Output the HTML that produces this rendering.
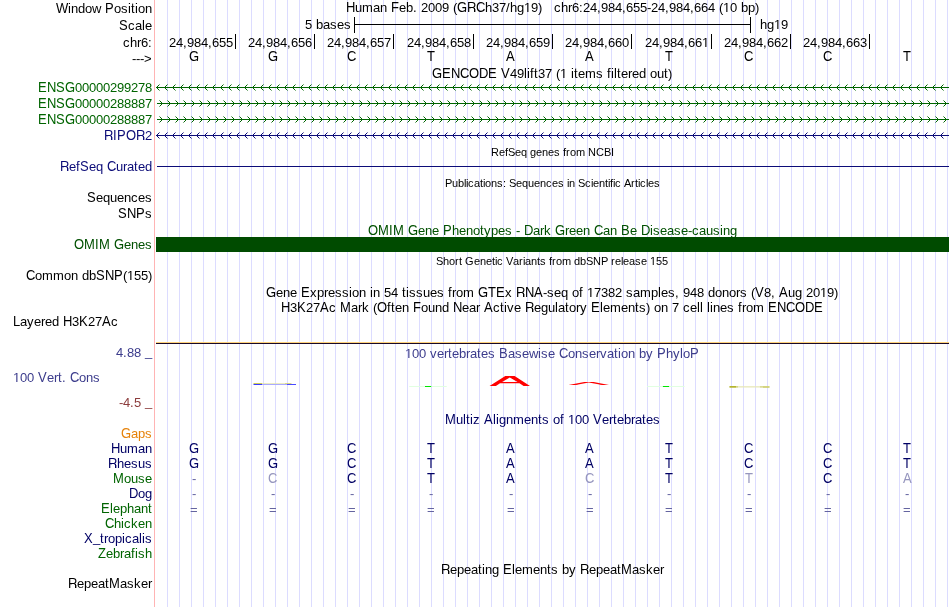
<!DOCTYPE html>
<html><head><meta charset="utf-8"><title>UCSC Genome Browser</title>
<style>html,body{margin:0;padding:0;background:#fff;overflow:hidden}svg{display:block;will-change:transform}text{font-family:"Liberation Sans",sans-serif;font-size:13px;white-space:pre}text.s{font-size:11px}</style>
</head><body>
<svg width="950" height="607" viewBox="0 0 950 607">
<rect width="950" height="607" fill="#fff"/>
<defs><clipPath id="lo12"><rect x="0" y="4" width="950" height="14"/></clipPath><clipPath id="hi12"><rect x="0" y="-1" width="950" height="5"/></clipPath><clipPath id="lo13"><rect x="0" y="5" width="950" height="14"/></clipPath><clipPath id="hi13"><rect x="0" y="0" width="950" height="5"/></clipPath><clipPath id="lo29"><rect x="0" y="21" width="950" height="14"/></clipPath><clipPath id="hi29"><rect x="0" y="16" width="950" height="5"/></clipPath><clipPath id="lo30"><rect x="0" y="22" width="950" height="14"/></clipPath><clipPath id="hi30"><rect x="0" y="17" width="950" height="5"/></clipPath><clipPath id="lo47"><rect x="0" y="39" width="950" height="14"/></clipPath><clipPath id="hi47"><rect x="0" y="34" width="950" height="5"/></clipPath><clipPath id="lo78"><rect x="0" y="70" width="950" height="14"/></clipPath><clipPath id="hi78"><rect x="0" y="65" width="950" height="5"/></clipPath><clipPath id="lo171"><rect x="0" y="163" width="950" height="14"/></clipPath><clipPath id="hi171"><rect x="0" y="158" width="950" height="5"/></clipPath><clipPath id="lo235"><rect x="0" y="227" width="950" height="14"/></clipPath><clipPath id="hi235"><rect x="0" y="222" width="950" height="5"/></clipPath><clipPath id="lo280"><rect x="0" y="272" width="950" height="14"/></clipPath><clipPath id="hi280"><rect x="0" y="267" width="950" height="5"/></clipPath><clipPath id="lo297"><rect x="0" y="289" width="950" height="14"/></clipPath><clipPath id="hi297"><rect x="0" y="284" width="950" height="5"/></clipPath><clipPath id="lo312"><rect x="0" y="304" width="950" height="14"/></clipPath><clipPath id="hi312"><rect x="0" y="299" width="950" height="5"/></clipPath><clipPath id="lo326"><rect x="0" y="318" width="950" height="14"/></clipPath><clipPath id="hi326"><rect x="0" y="313" width="950" height="5"/></clipPath><clipPath id="lo358"><rect x="0" y="350" width="950" height="14"/></clipPath><clipPath id="hi358"><rect x="0" y="345" width="950" height="5"/></clipPath><clipPath id="lo382"><rect x="0" y="374" width="950" height="14"/></clipPath><clipPath id="hi382"><rect x="0" y="369" width="950" height="5"/></clipPath><clipPath id="lo424"><rect x="0" y="416" width="950" height="14"/></clipPath><clipPath id="hi424"><rect x="0" y="411" width="950" height="5"/></clipPath><clipPath id="lo468"><rect x="0" y="460" width="950" height="14"/></clipPath><clipPath id="hi468"><rect x="0" y="455" width="950" height="5"/></clipPath><clipPath id="lo513"><rect x="0" y="505" width="950" height="14"/></clipPath><clipPath id="hi513"><rect x="0" y="500" width="950" height="5"/></clipPath><clipPath id="lo528"><rect x="0" y="520" width="950" height="14"/></clipPath><clipPath id="hi528"><rect x="0" y="515" width="950" height="5"/></clipPath><clipPath id="lo543"><rect x="0" y="535" width="950" height="14"/></clipPath><clipPath id="hi543"><rect x="0" y="530" width="950" height="5"/></clipPath><clipPath id="lo558"><rect x="0" y="550" width="950" height="14"/></clipPath><clipPath id="hi558"><rect x="0" y="545" width="950" height="5"/></clipPath><clipPath id="lo574"><rect x="0" y="566" width="950" height="14"/></clipPath><clipPath id="hi574"><rect x="0" y="561" width="950" height="5"/></clipPath><clipPath id="lo588"><rect x="0" y="580" width="950" height="14"/></clipPath><clipPath id="hi588"><rect x="0" y="575" width="950" height="5"/></clipPath><clipPath id="oa12"><rect x="0" y="-2" width="950" height="13"/></clipPath><clipPath id="ob12"><rect x="0" y="11" width="950" height="1"/></clipPath><clipPath id="oa29"><rect x="0" y="15" width="950" height="13"/></clipPath><clipPath id="ob29"><rect x="0" y="28" width="950" height="1"/></clipPath><clipPath id="oa47"><rect x="0" y="33" width="950" height="13"/></clipPath><clipPath id="ob47"><rect x="0" y="46" width="950" height="1"/></clipPath><clipPath id="oa78"><rect x="0" y="64" width="950" height="13"/></clipPath><clipPath id="ob78"><rect x="0" y="77" width="950" height="1"/></clipPath><clipPath id="oa265"><rect x="0" y="251" width="950" height="13"/></clipPath><clipPath id="ob265"><rect x="0" y="264" width="950" height="1"/></clipPath><clipPath id="oa280"><rect x="0" y="266" width="950" height="13"/></clipPath><clipPath id="ob280"><rect x="0" y="279" width="950" height="1"/></clipPath><clipPath id="oa297"><rect x="0" y="283" width="950" height="13"/></clipPath><clipPath id="ob297"><rect x="0" y="296" width="950" height="1"/></clipPath><clipPath id="oa358"><rect x="0" y="344" width="950" height="13"/></clipPath><clipPath id="ob358"><rect x="0" y="357" width="950" height="1"/></clipPath><clipPath id="oa382"><rect x="0" y="368" width="950" height="13"/></clipPath><clipPath id="ob382"><rect x="0" y="381" width="950" height="1"/></clipPath><clipPath id="oa424"><rect x="0" y="410" width="950" height="13"/></clipPath><clipPath id="ob424"><rect x="0" y="423" width="950" height="1"/></clipPath><clipPath id="r0"><rect x="467" y="-2" width="12" height="10"/><rect x="467" y="8" width="4" height="5"/></clipPath><clipPath id="r1"><rect x="104" y="126" width="12" height="10"/><rect x="104" y="136" width="4" height="5"/></clipPath><clipPath id="r2"><rect x="136" y="126" width="12" height="10"/><rect x="136" y="136" width="4" height="5"/></clipPath><clipPath id="r3"><rect x="60" y="157" width="12" height="10"/><rect x="60" y="167" width="4" height="5"/></clipPath><clipPath id="r4"><rect x="516" y="283" width="12" height="10"/><rect x="516" y="293" width="4" height="5"/></clipPath><clipPath id="r5"><rect x="525" y="298" width="12" height="10"/><rect x="525" y="308" width="4" height="5"/></clipPath><clipPath id="r6"><rect x="108" y="454" width="12" height="10"/><rect x="108" y="464" width="4" height="5"/></clipPath><clipPath id="r7"><rect x="441" y="560" width="12" height="10"/><rect x="441" y="570" width="4" height="5"/></clipPath><clipPath id="r8"><rect x="580" y="560" width="12" height="10"/><rect x="580" y="570" width="4" height="5"/></clipPath><clipPath id="r9"><rect x="68" y="574" width="12" height="10"/><rect x="68" y="584" width="4" height="5"/></clipPath></defs>
<g shape-rendering="crispEdges">
<path d="M167 0v607M179 0v607M191 0v607M203 0v607M215 0v607M227 0v607M239 0v607M251 0v607M263 0v607M275 0v607M287 0v607M299 0v607M311 0v607M323 0v607M335 0v607M347 0v607M359 0v607M371 0v607M383 0v607M395 0v607M407 0v607M419 0v607M431 0v607M443 0v607M455 0v607M467 0v607M479 0v607M491 0v607M503 0v607M515 0v607M527 0v607M539 0v607M551 0v607M563 0v607M575 0v607M587 0v607M599 0v607M611 0v607M623 0v607M635 0v607M647 0v607M659 0v607M671 0v607M683 0v607M695 0v607M707 0v607M719 0v607M731 0v607M743 0v607M755 0v607M767 0v607M779 0v607M791 0v607M803 0v607M815 0v607M827 0v607M839 0v607M851 0v607M863 0v607M875 0v607M887 0v607M899 0v607M911 0v607M923 0v607M935 0v607M947 0v607" stroke="#dcdcff" stroke-width="1" transform="translate(0.5,0)"/>
<rect x="154" y="0" width="1" height="607" fill="#ffb4b4"/>
</g>
<text transform="translate(0 13) scale(1 1.07)" x="56">W</text>
<text x="71 85 92" y="13">now</text>
<text transform="translate(0 13) scale(1 1.07)" x="105">P</text>
<text x="114 121 138 145" y="13">oson</text>
<text x="68 78 128 131 135" y="13" clip-path="url(#lo13)">iditi</text>
<text x="68 78 128 131 135" y="12" clip-path="url(#hi13)">iditi</text>
<text transform="translate(0 30) scale(1 1.07)" x="119">S</text>
<text x="128 135 145" y="30">cae</text>
<text x="142" y="30" clip-path="url(#lo30)">l</text>
<text x="142" y="29" clip-path="url(#hi30)">l</text>
<text x="123 137 141 148" y="47">cr6:</text>
<text x="130" y="47" clip-path="url(#lo47)">h</text>
<text x="130" y="46" clip-path="url(#hi47)">h</text>
<text x="132 136 140 144" y="63">---&gt;</text>
<text transform="translate(0 12) scale(1 1.07)" x="346">H</text>
<text x="355 362 373 380" y="12">uman</text>
<text transform="translate(0 12) scale(1 1.07)" x="391">F</text>
<text x="399 413 417 421 428 435 442 449 453" y="12">e. 2009 (</text>
<text transform="translate(0 12) scale(1 1.07)" x="457 476">GC</text>
<text x="492 499 506 517 531 538 542 546 550 554 568 572 579 583 590 597 601 608 615 622 626 633 640 647 651 658 665 669 676 683 690 694 701 708 715 719 730 737 748 755" y="12">37/g9)   cr6:24,984,655-24,984,664 (0 p)</text>
<g clip-path="url(#r0)"><text transform="translate(0 12) scale(1 1.07)" x="467">R</text></g>
<path d="M474 8h1v4h-1z" fill="#000"/><path d="M475 9h1v3h-1z" fill="#000" opacity="0.38"/><path d="M473 8h1v1h-1z" fill="#000" opacity="0.45"/>
<path d="M465 10h1v2h-1z" fill="#000" opacity="0.85"/>
<text x="524 723" y="12" clip-path="url(#oa12)">11</text>
<text x="524 723" y="13" clip-path="url(#ob12)">11</text>
<text x="406 485 510 561 741" y="12" clip-path="url(#lo12)">bhhhb</text>
<text x="406 485 510 561 741" y="11" clip-path="url(#hi12)">bhhhb</text>
<text x="305 312 323 330 337 344" y="29">5 ases</text>
<text x="316" y="29" clip-path="url(#lo29)">b</text>
<text x="316" y="28" clip-path="url(#hi29)">b</text>
<text x="767 781" y="29">g9</text>
<text x="774" y="29" clip-path="url(#oa29)">1</text>
<text x="774" y="30" clip-path="url(#ob29)">1</text>
<text x="760" y="29" clip-path="url(#lo29)">h</text>
<text x="760" y="28" clip-path="url(#hi29)">h</text>
<g shape-rendering="crispEdges" fill="#000">
<rect x="354" y="24" width="397" height="1"/>
<rect x="354" y="17" width="1" height="16"/>
<rect x="750" y="17" width="1" height="16"/>
<rect x="235" y="34" width="1" height="15"/>
<rect x="314" y="34" width="1" height="15"/>
<rect x="393" y="34" width="1" height="15"/>
<rect x="473" y="34" width="1" height="15"/>
<rect x="552" y="34" width="1" height="15"/>
<rect x="631" y="34" width="1" height="15"/>
<rect x="711" y="34" width="1" height="15"/>
<rect x="790" y="34" width="1" height="15"/>
<rect x="869" y="34" width="1" height="15"/>
</g>
<text x="169 176 183 187 194 201 208 212 219 226" y="47">24,984,655</text>
<text x="248 255 262 266 273 280 287 291 298 305" y="47">24,984,656</text>
<text x="327 334 341 345 352 359 366 370 377 384" y="47">24,984,657</text>
<text x="407 414 421 425 432 439 446 450 457 464" y="47">24,984,658</text>
<text x="486 493 500 504 511 518 525 529 536 543" y="47">24,984,659</text>
<text x="565 572 579 583 590 597 604 608 615 622" y="47">24,984,660</text>
<text x="645 652 659 663 670 677 684 688 695" y="47">24,984,66</text>
<text x="702" y="47" clip-path="url(#oa47)">1</text>
<text x="702" y="48" clip-path="url(#ob47)">1</text>
<text x="724 731 738 742 749 756 763 767 774 781" y="47">24,984,662</text>
<text x="803 810 817 821 828 835 842 846 853 860" y="47">24,984,663</text>
<text transform="translate(0 61) scale(1 1.07)" x="189">G</text>
<path d="M197 59h1v2h-1z" fill="#000" opacity="0.85"/>
<text transform="translate(0 61) scale(1 1.07)" x="268">G</text>
<path d="M276 59h1v2h-1z" fill="#000" opacity="0.85"/>
<text transform="translate(0 61) scale(1 1.07)" x="347">C</text>
<text transform="translate(0 61) scale(1 1.07)" x="427">T</text>
<text transform="translate(0 61) scale(1 1.07)" x="506">A</text>
<text transform="translate(0 61) scale(1 1.07)" x="585">A</text>
<text transform="translate(0 61) scale(1 1.07)" x="665">T</text>
<text transform="translate(0 61) scale(1 1.07)" x="744">C</text>
<text transform="translate(0 61) scale(1 1.07)" x="823">C</text>
<text transform="translate(0 61) scale(1 1.07)" x="903">T</text>
<text transform="translate(0 78) scale(1 1.07)" x="432 442 451 460 469 479 488 497 501">GENCODE V</text>
<text x="510 517 538 545 552 556 567 578 585 596 603 621 628 632 646 650 657 668" y="78">4937 ( ems ere ou)</text>
<path d="M440 76h1v2h-1z" fill="#000" opacity="0.85"/>
<text x="560" y="78" clip-path="url(#oa78)">1</text>
<text x="560" y="79" clip-path="url(#ob78)">1</text>
<text x="524 527 530 534 571 574 607 611 614 617 639 664" y="78" clip-path="url(#lo78)">liftitfiltdt</text>
<text x="524 527 530 534 571 574 607 611 614 617 639 664" y="77" clip-path="url(#hi78)">liftitfiltdt</text>
<text transform="translate(0 92) scale(1 1.07)" x="38 47 56 65" fill="#006400">ENSG</text>
<text x="75 82 89 96 103 110 117 124 131 138 145" y="92" fill="#006400">00000299278</text>
<path d="M73 90h1v2h-1z" fill="#006400" opacity="0.85"/>
<g stroke="#006400" stroke-width="1" fill="none">
<path d="M156 87.5H949"/>
<path d="M159.5 84.5L156.5 87.5L159.5 90.5M167.5 84.5L164.5 87.5L167.5 90.5M175.5 84.5L172.5 87.5L175.5 90.5M183.5 84.5L180.5 87.5L183.5 90.5M191.5 84.5L188.5 87.5L191.5 90.5M199.5 84.5L196.5 87.5L199.5 90.5M207.5 84.5L204.5 87.5L207.5 90.5M215.5 84.5L212.5 87.5L215.5 90.5M223.5 84.5L220.5 87.5L223.5 90.5M231.5 84.5L228.5 87.5L231.5 90.5M239.5 84.5L236.5 87.5L239.5 90.5M247.5 84.5L244.5 87.5L247.5 90.5M255.5 84.5L252.5 87.5L255.5 90.5M263.5 84.5L260.5 87.5L263.5 90.5M271.5 84.5L268.5 87.5L271.5 90.5M279.5 84.5L276.5 87.5L279.5 90.5M287.5 84.5L284.5 87.5L287.5 90.5M295.5 84.5L292.5 87.5L295.5 90.5M303.5 84.5L300.5 87.5L303.5 90.5M311.5 84.5L308.5 87.5L311.5 90.5M319.5 84.5L316.5 87.5L319.5 90.5M327.5 84.5L324.5 87.5L327.5 90.5M335.5 84.5L332.5 87.5L335.5 90.5M343.5 84.5L340.5 87.5L343.5 90.5M351.5 84.5L348.5 87.5L351.5 90.5M359.5 84.5L356.5 87.5L359.5 90.5M367.5 84.5L364.5 87.5L367.5 90.5M375.5 84.5L372.5 87.5L375.5 90.5M383.5 84.5L380.5 87.5L383.5 90.5M391.5 84.5L388.5 87.5L391.5 90.5M399.5 84.5L396.5 87.5L399.5 90.5M407.5 84.5L404.5 87.5L407.5 90.5M415.5 84.5L412.5 87.5L415.5 90.5M423.5 84.5L420.5 87.5L423.5 90.5M431.5 84.5L428.5 87.5L431.5 90.5M439.5 84.5L436.5 87.5L439.5 90.5M447.5 84.5L444.5 87.5L447.5 90.5M455.5 84.5L452.5 87.5L455.5 90.5M463.5 84.5L460.5 87.5L463.5 90.5M471.5 84.5L468.5 87.5L471.5 90.5M479.5 84.5L476.5 87.5L479.5 90.5M487.5 84.5L484.5 87.5L487.5 90.5M495.5 84.5L492.5 87.5L495.5 90.5M503.5 84.5L500.5 87.5L503.5 90.5M511.5 84.5L508.5 87.5L511.5 90.5M519.5 84.5L516.5 87.5L519.5 90.5M527.5 84.5L524.5 87.5L527.5 90.5M535.5 84.5L532.5 87.5L535.5 90.5M543.5 84.5L540.5 87.5L543.5 90.5M551.5 84.5L548.5 87.5L551.5 90.5M559.5 84.5L556.5 87.5L559.5 90.5M567.5 84.5L564.5 87.5L567.5 90.5M575.5 84.5L572.5 87.5L575.5 90.5M583.5 84.5L580.5 87.5L583.5 90.5M591.5 84.5L588.5 87.5L591.5 90.5M599.5 84.5L596.5 87.5L599.5 90.5M607.5 84.5L604.5 87.5L607.5 90.5M615.5 84.5L612.5 87.5L615.5 90.5M623.5 84.5L620.5 87.5L623.5 90.5M631.5 84.5L628.5 87.5L631.5 90.5M639.5 84.5L636.5 87.5L639.5 90.5M647.5 84.5L644.5 87.5L647.5 90.5M655.5 84.5L652.5 87.5L655.5 90.5M663.5 84.5L660.5 87.5L663.5 90.5M671.5 84.5L668.5 87.5L671.5 90.5M679.5 84.5L676.5 87.5L679.5 90.5M687.5 84.5L684.5 87.5L687.5 90.5M695.5 84.5L692.5 87.5L695.5 90.5M703.5 84.5L700.5 87.5L703.5 90.5M711.5 84.5L708.5 87.5L711.5 90.5M719.5 84.5L716.5 87.5L719.5 90.5M727.5 84.5L724.5 87.5L727.5 90.5M735.5 84.5L732.5 87.5L735.5 90.5M743.5 84.5L740.5 87.5L743.5 90.5M751.5 84.5L748.5 87.5L751.5 90.5M759.5 84.5L756.5 87.5L759.5 90.5M767.5 84.5L764.5 87.5L767.5 90.5M775.5 84.5L772.5 87.5L775.5 90.5M783.5 84.5L780.5 87.5L783.5 90.5M791.5 84.5L788.5 87.5L791.5 90.5M799.5 84.5L796.5 87.5L799.5 90.5M807.5 84.5L804.5 87.5L807.5 90.5M815.5 84.5L812.5 87.5L815.5 90.5M823.5 84.5L820.5 87.5L823.5 90.5M831.5 84.5L828.5 87.5L831.5 90.5M839.5 84.5L836.5 87.5L839.5 90.5M847.5 84.5L844.5 87.5L847.5 90.5M855.5 84.5L852.5 87.5L855.5 90.5M863.5 84.5L860.5 87.5L863.5 90.5M871.5 84.5L868.5 87.5L871.5 90.5M879.5 84.5L876.5 87.5L879.5 90.5M887.5 84.5L884.5 87.5L887.5 90.5M895.5 84.5L892.5 87.5L895.5 90.5M903.5 84.5L900.5 87.5L903.5 90.5M911.5 84.5L908.5 87.5L911.5 90.5M919.5 84.5L916.5 87.5L919.5 90.5M927.5 84.5L924.5 87.5L927.5 90.5M935.5 84.5L932.5 87.5L935.5 90.5M943.5 84.5L940.5 87.5L943.5 90.5"/>
</g>
<text transform="translate(0 108) scale(1 1.07)" x="38 47 56 65" fill="#006400">ENSG</text>
<text x="75 82 89 96 103 110 117 124 131 138 145" y="108" fill="#006400">00000288887</text>
<path d="M73 106h1v2h-1z" fill="#006400" opacity="0.85"/>
<g stroke="#006400" stroke-width="1" fill="none">
<path d="M157 103.5H949"/>
<path d="M159.5 100.5L162.5 103.5L159.5 106.5M167.5 100.5L170.5 103.5L167.5 106.5M175.5 100.5L178.5 103.5L175.5 106.5M183.5 100.5L186.5 103.5L183.5 106.5M191.5 100.5L194.5 103.5L191.5 106.5M199.5 100.5L202.5 103.5L199.5 106.5M207.5 100.5L210.5 103.5L207.5 106.5M215.5 100.5L218.5 103.5L215.5 106.5M223.5 100.5L226.5 103.5L223.5 106.5M231.5 100.5L234.5 103.5L231.5 106.5M239.5 100.5L242.5 103.5L239.5 106.5M247.5 100.5L250.5 103.5L247.5 106.5M255.5 100.5L258.5 103.5L255.5 106.5M263.5 100.5L266.5 103.5L263.5 106.5M271.5 100.5L274.5 103.5L271.5 106.5M279.5 100.5L282.5 103.5L279.5 106.5M287.5 100.5L290.5 103.5L287.5 106.5M295.5 100.5L298.5 103.5L295.5 106.5M303.5 100.5L306.5 103.5L303.5 106.5M311.5 100.5L314.5 103.5L311.5 106.5M319.5 100.5L322.5 103.5L319.5 106.5M327.5 100.5L330.5 103.5L327.5 106.5M335.5 100.5L338.5 103.5L335.5 106.5M343.5 100.5L346.5 103.5L343.5 106.5M351.5 100.5L354.5 103.5L351.5 106.5M359.5 100.5L362.5 103.5L359.5 106.5M367.5 100.5L370.5 103.5L367.5 106.5M375.5 100.5L378.5 103.5L375.5 106.5M383.5 100.5L386.5 103.5L383.5 106.5M391.5 100.5L394.5 103.5L391.5 106.5M399.5 100.5L402.5 103.5L399.5 106.5M407.5 100.5L410.5 103.5L407.5 106.5M415.5 100.5L418.5 103.5L415.5 106.5M423.5 100.5L426.5 103.5L423.5 106.5M431.5 100.5L434.5 103.5L431.5 106.5M439.5 100.5L442.5 103.5L439.5 106.5M447.5 100.5L450.5 103.5L447.5 106.5M455.5 100.5L458.5 103.5L455.5 106.5M463.5 100.5L466.5 103.5L463.5 106.5M471.5 100.5L474.5 103.5L471.5 106.5M479.5 100.5L482.5 103.5L479.5 106.5M487.5 100.5L490.5 103.5L487.5 106.5M495.5 100.5L498.5 103.5L495.5 106.5M503.5 100.5L506.5 103.5L503.5 106.5M511.5 100.5L514.5 103.5L511.5 106.5M519.5 100.5L522.5 103.5L519.5 106.5M527.5 100.5L530.5 103.5L527.5 106.5M535.5 100.5L538.5 103.5L535.5 106.5M543.5 100.5L546.5 103.5L543.5 106.5M551.5 100.5L554.5 103.5L551.5 106.5M559.5 100.5L562.5 103.5L559.5 106.5M567.5 100.5L570.5 103.5L567.5 106.5M575.5 100.5L578.5 103.5L575.5 106.5M583.5 100.5L586.5 103.5L583.5 106.5M591.5 100.5L594.5 103.5L591.5 106.5M599.5 100.5L602.5 103.5L599.5 106.5M607.5 100.5L610.5 103.5L607.5 106.5M615.5 100.5L618.5 103.5L615.5 106.5M623.5 100.5L626.5 103.5L623.5 106.5M631.5 100.5L634.5 103.5L631.5 106.5M639.5 100.5L642.5 103.5L639.5 106.5M647.5 100.5L650.5 103.5L647.5 106.5M655.5 100.5L658.5 103.5L655.5 106.5M663.5 100.5L666.5 103.5L663.5 106.5M671.5 100.5L674.5 103.5L671.5 106.5M679.5 100.5L682.5 103.5L679.5 106.5M687.5 100.5L690.5 103.5L687.5 106.5M695.5 100.5L698.5 103.5L695.5 106.5M703.5 100.5L706.5 103.5L703.5 106.5M711.5 100.5L714.5 103.5L711.5 106.5M719.5 100.5L722.5 103.5L719.5 106.5M727.5 100.5L730.5 103.5L727.5 106.5M735.5 100.5L738.5 103.5L735.5 106.5M743.5 100.5L746.5 103.5L743.5 106.5M751.5 100.5L754.5 103.5L751.5 106.5M759.5 100.5L762.5 103.5L759.5 106.5M767.5 100.5L770.5 103.5L767.5 106.5M775.5 100.5L778.5 103.5L775.5 106.5M783.5 100.5L786.5 103.5L783.5 106.5M791.5 100.5L794.5 103.5L791.5 106.5M799.5 100.5L802.5 103.5L799.5 106.5M807.5 100.5L810.5 103.5L807.5 106.5M815.5 100.5L818.5 103.5L815.5 106.5M823.5 100.5L826.5 103.5L823.5 106.5M831.5 100.5L834.5 103.5L831.5 106.5M839.5 100.5L842.5 103.5L839.5 106.5M847.5 100.5L850.5 103.5L847.5 106.5M855.5 100.5L858.5 103.5L855.5 106.5M863.5 100.5L866.5 103.5L863.5 106.5M871.5 100.5L874.5 103.5L871.5 106.5M879.5 100.5L882.5 103.5L879.5 106.5M887.5 100.5L890.5 103.5L887.5 106.5M895.5 100.5L898.5 103.5L895.5 106.5M903.5 100.5L906.5 103.5L903.5 106.5M911.5 100.5L914.5 103.5L911.5 106.5M919.5 100.5L922.5 103.5L919.5 106.5M927.5 100.5L930.5 103.5L927.5 106.5M935.5 100.5L938.5 103.5L935.5 106.5M943.5 100.5L946.5 103.5L943.5 106.5"/>
</g>
<text transform="translate(0 124) scale(1 1.07)" x="38 47 56 65" fill="#006400">ENSG</text>
<text x="75 82 89 96 103 110 117 124 131 138 145" y="124" fill="#006400">00000288887</text>
<path d="M73 122h1v2h-1z" fill="#006400" opacity="0.85"/>
<g stroke="#006400" stroke-width="1" fill="none">
<path d="M157 119.5H949"/>
<path d="M159.5 116.5L162.5 119.5L159.5 122.5M167.5 116.5L170.5 119.5L167.5 122.5M175.5 116.5L178.5 119.5L175.5 122.5M183.5 116.5L186.5 119.5L183.5 122.5M191.5 116.5L194.5 119.5L191.5 122.5M199.5 116.5L202.5 119.5L199.5 122.5M207.5 116.5L210.5 119.5L207.5 122.5M215.5 116.5L218.5 119.5L215.5 122.5M223.5 116.5L226.5 119.5L223.5 122.5M231.5 116.5L234.5 119.5L231.5 122.5M239.5 116.5L242.5 119.5L239.5 122.5M247.5 116.5L250.5 119.5L247.5 122.5M255.5 116.5L258.5 119.5L255.5 122.5M263.5 116.5L266.5 119.5L263.5 122.5M271.5 116.5L274.5 119.5L271.5 122.5M279.5 116.5L282.5 119.5L279.5 122.5M287.5 116.5L290.5 119.5L287.5 122.5M295.5 116.5L298.5 119.5L295.5 122.5M303.5 116.5L306.5 119.5L303.5 122.5M311.5 116.5L314.5 119.5L311.5 122.5M319.5 116.5L322.5 119.5L319.5 122.5M327.5 116.5L330.5 119.5L327.5 122.5M335.5 116.5L338.5 119.5L335.5 122.5M343.5 116.5L346.5 119.5L343.5 122.5M351.5 116.5L354.5 119.5L351.5 122.5M359.5 116.5L362.5 119.5L359.5 122.5M367.5 116.5L370.5 119.5L367.5 122.5M375.5 116.5L378.5 119.5L375.5 122.5M383.5 116.5L386.5 119.5L383.5 122.5M391.5 116.5L394.5 119.5L391.5 122.5M399.5 116.5L402.5 119.5L399.5 122.5M407.5 116.5L410.5 119.5L407.5 122.5M415.5 116.5L418.5 119.5L415.5 122.5M423.5 116.5L426.5 119.5L423.5 122.5M431.5 116.5L434.5 119.5L431.5 122.5M439.5 116.5L442.5 119.5L439.5 122.5M447.5 116.5L450.5 119.5L447.5 122.5M455.5 116.5L458.5 119.5L455.5 122.5M463.5 116.5L466.5 119.5L463.5 122.5M471.5 116.5L474.5 119.5L471.5 122.5M479.5 116.5L482.5 119.5L479.5 122.5M487.5 116.5L490.5 119.5L487.5 122.5M495.5 116.5L498.5 119.5L495.5 122.5M503.5 116.5L506.5 119.5L503.5 122.5M511.5 116.5L514.5 119.5L511.5 122.5M519.5 116.5L522.5 119.5L519.5 122.5M527.5 116.5L530.5 119.5L527.5 122.5M535.5 116.5L538.5 119.5L535.5 122.5M543.5 116.5L546.5 119.5L543.5 122.5M551.5 116.5L554.5 119.5L551.5 122.5M559.5 116.5L562.5 119.5L559.5 122.5M567.5 116.5L570.5 119.5L567.5 122.5M575.5 116.5L578.5 119.5L575.5 122.5M583.5 116.5L586.5 119.5L583.5 122.5M591.5 116.5L594.5 119.5L591.5 122.5M599.5 116.5L602.5 119.5L599.5 122.5M607.5 116.5L610.5 119.5L607.5 122.5M615.5 116.5L618.5 119.5L615.5 122.5M623.5 116.5L626.5 119.5L623.5 122.5M631.5 116.5L634.5 119.5L631.5 122.5M639.5 116.5L642.5 119.5L639.5 122.5M647.5 116.5L650.5 119.5L647.5 122.5M655.5 116.5L658.5 119.5L655.5 122.5M663.5 116.5L666.5 119.5L663.5 122.5M671.5 116.5L674.5 119.5L671.5 122.5M679.5 116.5L682.5 119.5L679.5 122.5M687.5 116.5L690.5 119.5L687.5 122.5M695.5 116.5L698.5 119.5L695.5 122.5M703.5 116.5L706.5 119.5L703.5 122.5M711.5 116.5L714.5 119.5L711.5 122.5M719.5 116.5L722.5 119.5L719.5 122.5M727.5 116.5L730.5 119.5L727.5 122.5M735.5 116.5L738.5 119.5L735.5 122.5M743.5 116.5L746.5 119.5L743.5 122.5M751.5 116.5L754.5 119.5L751.5 122.5M759.5 116.5L762.5 119.5L759.5 122.5M767.5 116.5L770.5 119.5L767.5 122.5M775.5 116.5L778.5 119.5L775.5 122.5M783.5 116.5L786.5 119.5L783.5 122.5M791.5 116.5L794.5 119.5L791.5 122.5M799.5 116.5L802.5 119.5L799.5 122.5M807.5 116.5L810.5 119.5L807.5 122.5M815.5 116.5L818.5 119.5L815.5 122.5M823.5 116.5L826.5 119.5L823.5 122.5M831.5 116.5L834.5 119.5L831.5 122.5M839.5 116.5L842.5 119.5L839.5 122.5M847.5 116.5L850.5 119.5L847.5 122.5M855.5 116.5L858.5 119.5L855.5 122.5M863.5 116.5L866.5 119.5L863.5 122.5M871.5 116.5L874.5 119.5L871.5 122.5M879.5 116.5L882.5 119.5L879.5 122.5M887.5 116.5L890.5 119.5L887.5 122.5M895.5 116.5L898.5 119.5L895.5 122.5M903.5 116.5L906.5 119.5L903.5 122.5M911.5 116.5L914.5 119.5L911.5 122.5M919.5 116.5L922.5 119.5L919.5 122.5M927.5 116.5L930.5 119.5L927.5 122.5M935.5 116.5L938.5 119.5L935.5 122.5M943.5 116.5L946.5 119.5L943.5 122.5"/>
</g>
<text transform="translate(0 140) scale(1 1.07)" x="113 117 126" fill="#0c0c78">IPO</text>
<text x="145" y="140" fill="#0c0c78">2</text>
<g clip-path="url(#r1)"><text transform="translate(0 140) scale(1 1.07)" x="104" fill="#0c0c78">R</text></g>
<path d="M111 136h1v4h-1z" fill="#0c0c78"/><path d="M112 137h1v3h-1z" fill="#0c0c78" opacity="0.38"/><path d="M110 136h1v1h-1z" fill="#0c0c78" opacity="0.45"/>
<g clip-path="url(#r2)"><text transform="translate(0 140) scale(1 1.07)" x="136" fill="#0c0c78">R</text></g>
<path d="M143 136h1v4h-1z" fill="#0c0c78"/><path d="M144 137h1v3h-1z" fill="#0c0c78" opacity="0.38"/><path d="M142 136h1v1h-1z" fill="#0c0c78" opacity="0.45"/>
<g stroke="#0c0c78" stroke-width="1" fill="none">
<path d="M156 135.5H949"/>
<path d="M159.5 132.5L156.5 135.5L159.5 138.5M167.5 132.5L164.5 135.5L167.5 138.5M175.5 132.5L172.5 135.5L175.5 138.5M183.5 132.5L180.5 135.5L183.5 138.5M191.5 132.5L188.5 135.5L191.5 138.5M199.5 132.5L196.5 135.5L199.5 138.5M207.5 132.5L204.5 135.5L207.5 138.5M215.5 132.5L212.5 135.5L215.5 138.5M223.5 132.5L220.5 135.5L223.5 138.5M231.5 132.5L228.5 135.5L231.5 138.5M239.5 132.5L236.5 135.5L239.5 138.5M247.5 132.5L244.5 135.5L247.5 138.5M255.5 132.5L252.5 135.5L255.5 138.5M263.5 132.5L260.5 135.5L263.5 138.5M271.5 132.5L268.5 135.5L271.5 138.5M279.5 132.5L276.5 135.5L279.5 138.5M287.5 132.5L284.5 135.5L287.5 138.5M295.5 132.5L292.5 135.5L295.5 138.5M303.5 132.5L300.5 135.5L303.5 138.5M311.5 132.5L308.5 135.5L311.5 138.5M319.5 132.5L316.5 135.5L319.5 138.5M327.5 132.5L324.5 135.5L327.5 138.5M335.5 132.5L332.5 135.5L335.5 138.5M343.5 132.5L340.5 135.5L343.5 138.5M351.5 132.5L348.5 135.5L351.5 138.5M359.5 132.5L356.5 135.5L359.5 138.5M367.5 132.5L364.5 135.5L367.5 138.5M375.5 132.5L372.5 135.5L375.5 138.5M383.5 132.5L380.5 135.5L383.5 138.5M391.5 132.5L388.5 135.5L391.5 138.5M399.5 132.5L396.5 135.5L399.5 138.5M407.5 132.5L404.5 135.5L407.5 138.5M415.5 132.5L412.5 135.5L415.5 138.5M423.5 132.5L420.5 135.5L423.5 138.5M431.5 132.5L428.5 135.5L431.5 138.5M439.5 132.5L436.5 135.5L439.5 138.5M447.5 132.5L444.5 135.5L447.5 138.5M455.5 132.5L452.5 135.5L455.5 138.5M463.5 132.5L460.5 135.5L463.5 138.5M471.5 132.5L468.5 135.5L471.5 138.5M479.5 132.5L476.5 135.5L479.5 138.5M487.5 132.5L484.5 135.5L487.5 138.5M495.5 132.5L492.5 135.5L495.5 138.5M503.5 132.5L500.5 135.5L503.5 138.5M511.5 132.5L508.5 135.5L511.5 138.5M519.5 132.5L516.5 135.5L519.5 138.5M527.5 132.5L524.5 135.5L527.5 138.5M535.5 132.5L532.5 135.5L535.5 138.5M543.5 132.5L540.5 135.5L543.5 138.5M551.5 132.5L548.5 135.5L551.5 138.5M559.5 132.5L556.5 135.5L559.5 138.5M567.5 132.5L564.5 135.5L567.5 138.5M575.5 132.5L572.5 135.5L575.5 138.5M583.5 132.5L580.5 135.5L583.5 138.5M591.5 132.5L588.5 135.5L591.5 138.5M599.5 132.5L596.5 135.5L599.5 138.5M607.5 132.5L604.5 135.5L607.5 138.5M615.5 132.5L612.5 135.5L615.5 138.5M623.5 132.5L620.5 135.5L623.5 138.5M631.5 132.5L628.5 135.5L631.5 138.5M639.5 132.5L636.5 135.5L639.5 138.5M647.5 132.5L644.5 135.5L647.5 138.5M655.5 132.5L652.5 135.5L655.5 138.5M663.5 132.5L660.5 135.5L663.5 138.5M671.5 132.5L668.5 135.5L671.5 138.5M679.5 132.5L676.5 135.5L679.5 138.5M687.5 132.5L684.5 135.5L687.5 138.5M695.5 132.5L692.5 135.5L695.5 138.5M703.5 132.5L700.5 135.5L703.5 138.5M711.5 132.5L708.5 135.5L711.5 138.5M719.5 132.5L716.5 135.5L719.5 138.5M727.5 132.5L724.5 135.5L727.5 138.5M735.5 132.5L732.5 135.5L735.5 138.5M743.5 132.5L740.5 135.5L743.5 138.5M751.5 132.5L748.5 135.5L751.5 138.5M759.5 132.5L756.5 135.5L759.5 138.5M767.5 132.5L764.5 135.5L767.5 138.5M775.5 132.5L772.5 135.5L775.5 138.5M783.5 132.5L780.5 135.5L783.5 138.5M791.5 132.5L788.5 135.5L791.5 138.5M799.5 132.5L796.5 135.5L799.5 138.5M807.5 132.5L804.5 135.5L807.5 138.5M815.5 132.5L812.5 135.5L815.5 138.5M823.5 132.5L820.5 135.5L823.5 138.5M831.5 132.5L828.5 135.5L831.5 138.5M839.5 132.5L836.5 135.5L839.5 138.5M847.5 132.5L844.5 135.5L847.5 138.5M855.5 132.5L852.5 135.5L855.5 138.5M863.5 132.5L860.5 135.5L863.5 138.5M871.5 132.5L868.5 135.5L871.5 138.5M879.5 132.5L876.5 135.5L879.5 138.5M887.5 132.5L884.5 135.5L887.5 138.5M895.5 132.5L892.5 135.5L895.5 138.5M903.5 132.5L900.5 135.5L903.5 138.5M911.5 132.5L908.5 135.5L911.5 138.5M919.5 132.5L916.5 135.5L919.5 138.5M927.5 132.5L924.5 135.5L927.5 138.5M935.5 132.5L932.5 135.5L935.5 138.5M943.5 132.5L940.5 135.5L943.5 138.5"/>
</g>
<text transform="translate(0 156) scale(1 1.07)" x="491" class="s">R</text>
<text x="499 505" y="156" class="s">ef</text>
<text transform="translate(0 156) scale(1 1.07)" x="508" class="s">S</text>
<text x="515 521 527 530 536 542 548 554 560 563 566 570 576" y="156" class="s">eq genes from</text>
<text transform="translate(0 156) scale(1 1.07)" x="588 596 604 611" class="s">NCBI</text>
<text x="69" y="171" fill="#0c0c78">e</text>
<text transform="translate(0 171) scale(1 1.07)" x="80" fill="#0c0c78">S</text>
<text x="89 96" y="171" fill="#0c0c78">eq</text>
<text transform="translate(0 171) scale(1 1.07)" x="107" fill="#0c0c78">C</text>
<text x="116 123 127 138" y="171" fill="#0c0c78">urae</text>
<g clip-path="url(#r3)"><text transform="translate(0 171) scale(1 1.07)" x="60" fill="#0c0c78">R</text></g>
<path d="M67 167h1v4h-1z" fill="#0c0c78"/><path d="M68 168h1v3h-1z" fill="#0c0c78" opacity="0.38"/><path d="M66 167h1v1h-1z" fill="#0c0c78" opacity="0.45"/>
<text x="76 134 145" y="171" fill="#0c0c78" clip-path="url(#lo171)">ftd</text>
<text x="76 134 145" y="170" fill="#0c0c78" clip-path="url(#hi171)">ftd</text>
<rect x="157" y="166" width="792" height="1" fill="#0c0c78" shape-rendering="crispEdges"/>
<text transform="translate(0 187) scale(1 1.07)" x="445" class="s">P</text>
<text x="452 458 464 466 468 474 480 483 485 491 497 503" y="187" class="s">ublications:</text>
<text transform="translate(0 187) scale(1 1.07)" x="509" class="s">S</text>
<text x="516 522 528 534 540 546 552 558 564 567 569" y="187" class="s">equences in</text>
<text transform="translate(0 187) scale(1 1.07)" x="578" class="s">S</text>
<text x="585 591 593 599 605 608 610 613 615" y="187" class="s">cientific</text>
<text transform="translate(0 187) scale(1 1.07)" x="624" class="s">A</text>
<text x="631 635 638 640 646 648 654" y="187" class="s">rticles</text>
<text transform="translate(0 202) scale(1 1.07)" x="87">S</text>
<text x="96 103 110 117 124 131 138 145" y="202">equences</text>
<text transform="translate(0 218) scale(1 1.07)" x="118 127 136">SNP</text>
<text x="145" y="218">s</text>
<text transform="translate(0 235) scale(1 1.07)" x="368 378 389 393 404 408" fill="#005000">OMIM G</text>
<text x="418 425 432" y="235" fill="#005000">ene</text>
<text transform="translate(0 235) scale(1 1.07)" x="443" fill="#005000">P</text>
<text x="459 466 473 484 491 498 505 512 516" y="235" fill="#005000">enoypes -</text>
<text transform="translate(0 235) scale(1 1.07)" x="524" fill="#005000">D</text>
<text x="533 540" y="235" fill="#005000">ar</text>
<text transform="translate(0 235) scale(1 1.07)" x="555" fill="#005000">G</text>
<text x="565 569 576 583" y="235" fill="#005000">reen</text>
<text transform="translate(0 235) scale(1 1.07)" x="594" fill="#005000">C</text>
<text x="603 610" y="235" fill="#005000">an</text>
<text transform="translate(0 235) scale(1 1.07)" x="621" fill="#005000">B</text>
<text x="630" y="235" fill="#005000">e</text>
<text transform="translate(0 235) scale(1 1.07)" x="641" fill="#005000">D</text>
<text x="653 660 667 674 681 688 692 699 706 713 723 730" y="235" fill="#005000">sease-causng</text>
<path d="M416 233h1v2h-1z" fill="#005000" opacity="0.85"/>
<path d="M563 233h1v2h-1z" fill="#005000" opacity="0.85"/>
<text x="452 480 544 650 720" y="235" fill="#005000" clip-path="url(#lo235)">htkii</text>
<text x="452 480 544 650 720" y="234" fill="#005000" clip-path="url(#hi235)">htkii</text>
<text transform="translate(0 249) scale(1 1.07)" x="74 84 95 99 110 114" fill="#005000">OMIM G</text>
<text x="124 131 138 145" y="249" fill="#005000">enes</text>
<path d="M122 247h1v2h-1z" fill="#005000" opacity="0.85"/>
<rect x="156" y="237" width="793" height="15" fill="#004b00" shape-rendering="crispEdges"/>
<text transform="translate(0 265) scale(1 1.07)" x="436" class="s">S</text>
<text x="443 449 455 459" y="265" class="s">hort</text>
<text transform="translate(0 265) scale(1 1.07)" x="465" class="s">G</text>
<text x="474 480 486 492 495 497" y="265" class="s">enetic</text>
<text transform="translate(0 265) scale(1 1.07)" x="506" class="s">V</text>
<text x="513 519 523 525 531 537 540 546 549 552 556 562 571 574 580" y="265" class="s">ariants from db</text>
<text transform="translate(0 265) scale(1 1.07)" x="586 593 601" class="s">SNP</text>
<text x="611 615 621 623 629 635 641 647 656 662" y="265" class="s">release 55</text>
<text x="650" y="265" class="s" clip-path="url(#oa265)">1</text>
<text x="650" y="266" class="s" clip-path="url(#ob265)">1</text>
<text transform="translate(0 280) scale(1 1.07)" x="26">C</text>
<text x="35 42 53 64 71" y="280">ommon</text>
<text transform="translate(0 280) scale(1 1.07)" x="96 105 114">SNP</text>
<text x="123 134 141 148" y="280">(55)</text>
<text x="127" y="280" clip-path="url(#oa280)">1</text>
<text x="127" y="281" clip-path="url(#ob280)">1</text>
<text x="82 89" y="280" clip-path="url(#lo280)">db</text>
<text x="82 89" y="279" clip-path="url(#hi280)">db</text>
<text transform="translate(0 297) scale(1 1.07)" x="266">G</text>
<text x="276 283 290" y="297">ene</text>
<text transform="translate(0 297) scale(1 1.07)" x="301">E</text>
<text x="310 317 324 328 335 342 352 359 366 373 380 384 391 398 409 416 423 430 437 444 452 456 463" y="297">xpresson n 54 ssues rom</text>
<text transform="translate(0 297) scale(1 1.07)" x="478 488 496">GTE</text>
<text x="505" y="297">x</text>
<text transform="translate(0 297) scale(1 1.07)" x="525 534">NA</text>
<text x="543 547 554 561 568 572 583 594 601 608 615 622 626 633 640 651 661 668 675 679 683 690 697 704 715 722 729 736 740 747 751" y="297">-seq o 7382 sampes, 948 onors (</text>
<text transform="translate(0 297) scale(1 1.07)" x="755">V</text>
<text x="764 771" y="297">8,</text>
<text transform="translate(0 297) scale(1 1.07)" x="779">A</text>
<text x="788 795 802 806 813 827 834" y="297">ug 209)</text>
<g clip-path="url(#r4)"><text transform="translate(0 297) scale(1 1.07)" x="516">R</text></g>
<path d="M523 293h1v4h-1z" fill="#000"/><path d="M524 294h1v3h-1z" fill="#000" opacity="0.38"/><path d="M522 293h1v1h-1z" fill="#000" opacity="0.45"/>
<path d="M274 295h1v2h-1z" fill="#000" opacity="0.85"/>
<path d="M486 295h1v2h-1z" fill="#000" opacity="0.85"/>
<text x="587 820" y="297" clip-path="url(#oa297)">11</text>
<text x="587 820" y="298" clip-path="url(#ob297)">11</text>
<text x="349 370 402 406 448 579 658 708" y="297" clip-path="url(#lo297)">iitiffld</text>
<text x="349 370 402 406 448 579 658 708" y="296" clip-path="url(#hi297)">iitiffld</text>
<text transform="translate(0 312) scale(1 1.07)" x="281">H</text>
<text x="290" y="312">3</text>
<text transform="translate(0 312) scale(1 1.07)" x="297">K</text>
<text x="306 313" y="312">27</text>
<text transform="translate(0 312) scale(1 1.07)" x="320">A</text>
<text x="329" y="312">c</text>
<text transform="translate(0 312) scale(1 1.07)" x="340">M</text>
<text x="351 358 369 373" y="312">ar (</text>
<text transform="translate(0 312) scale(1 1.07)" x="377">O</text>
<text x="395 402" y="312">en</text>
<text transform="translate(0 312) scale(1 1.07)" x="413">F</text>
<text x="421 428 435" y="312">oun</text>
<text transform="translate(0 312) scale(1 1.07)" x="453">N</text>
<text x="462 469 476" y="312">ear</text>
<text transform="translate(0 312) scale(1 1.07)" x="484">A</text>
<text x="493 507 514 521 534 541 548 558 569 576 580" y="312">cve eguaory</text>
<text transform="translate(0 312) scale(1 1.07)" x="591">E</text>
<text x="603 610 621 628 639 646 650 654 661 668 672 679 683 690 703 713 720 727 734 742 746 753" y="312">emens) on 7 ce nes rom</text>
<text transform="translate(0 312) scale(1 1.07)" x="768 777 786 795 805 814">ENCODE</text>
<g clip-path="url(#r5)"><text transform="translate(0 312) scale(1 1.07)" x="525">R</text></g>
<path d="M532 308h1v4h-1z" fill="#000"/><path d="M533 309h1v3h-1z" fill="#000" opacity="0.38"/><path d="M531 308h1v1h-1z" fill="#000" opacity="0.45"/>
<text x="362 387 391 442 500 504 555 565 600 635 697 700 707 710 738" y="312" clip-path="url(#lo312)">kftdtiltltlllif</text>
<text x="362 387 391 442 500 504 555 565 600 635 697 700 707 710 738" y="311" clip-path="url(#hi312)">kftdtiltltlllif</text>
<text transform="translate(0 326) scale(1 1.07)" x="13">L</text>
<text x="20 27 34 41 45" y="326">ayere</text>
<text transform="translate(0 326) scale(1 1.07)" x="63">H</text>
<text x="72" y="326">3</text>
<text transform="translate(0 326) scale(1 1.07)" x="79">K</text>
<text x="88 95" y="326">27</text>
<text transform="translate(0 326) scale(1 1.07)" x="102">A</text>
<text x="111" y="326">c</text>
<text x="52" y="326" clip-path="url(#lo326)">d</text>
<text x="52" y="325" clip-path="url(#hi326)">d</text>
<rect x="156" y="342" width="793" height="1" fill="#ffd27a" shape-rendering="crispEdges"/>
<rect x="156" y="343" width="793" height="1" fill="#1a0a28" shape-rendering="crispEdges"/>
<text x="412 419 426 430 437 444 452 466 470 481 488" y="358" fill="#3c3c8c">00 vereraes</text>
<text transform="translate(0 358) scale(1 1.07)" x="499" fill="#3c3c8c">B</text>
<text x="508 515 522 529 541 548" y="358" fill="#3c3c8c">asewse</text>
<text transform="translate(0 358) scale(1 1.07)" x="559" fill="#3c3c8c">C</text>
<text x="568 575 582 589 596 600 607 621 628 635 646" y="358" fill="#3c3c8c">onservaon y</text>
<text transform="translate(0 358) scale(1 1.07)" x="657" fill="#3c3c8c">P</text>
<text x="673 683" y="358" fill="#3c3c8c">yo</text>
<text transform="translate(0 358) scale(1 1.07)" x="690" fill="#3c3c8c">P</text>
<text x="405" y="358" fill="#3c3c8c" clip-path="url(#oa358)">1</text>
<text x="405" y="359" fill="#3c3c8c" clip-path="url(#ob358)">1</text>
<text x="448 459 477 538 614 618 639 666 680" y="358" fill="#3c3c8c" clip-path="url(#lo358)">tbtitibhl</text>
<text x="448 459 477 538 614 618 639 666 680" y="357" fill="#3c3c8c" clip-path="url(#hi358)">tbtitibhl</text>
<text x="116 123 127 134" y="357" fill="#3c3c8c">4.88</text>
<text x="145" y="356" fill="#3c3c8c">_</text>
<text x="20 27" y="382" fill="#3c3c8c">00</text>
<text transform="translate(0 382) scale(1 1.07)" x="38" fill="#3c3c8c">V</text>
<text x="47 54 62" y="382" fill="#3c3c8c">er.</text>
<text transform="translate(0 382) scale(1 1.07)" x="70" fill="#3c3c8c">C</text>
<text x="79 86 93" y="382" fill="#3c3c8c">ons</text>
<text x="13" y="382" fill="#3c3c8c" clip-path="url(#oa382)">1</text>
<text x="13" y="383" fill="#3c3c8c" clip-path="url(#ob382)">1</text>
<text x="58" y="382" fill="#3c3c8c" clip-path="url(#lo382)">t</text>
<text x="58" y="381" fill="#3c3c8c" clip-path="url(#hi382)">t</text>
<text x="119 123 130 134" y="407" fill="#8c3c3c">-4.5</text>
<text x="145" y="406" fill="#8c3c3c">_</text>
<rect x="253.5" y="383.2" width="8.5" height="0.8" fill="#c3c328"/>
<rect x="262" y="383.3" width="23" height="0.7" fill="#e6e6a5"/>
<rect x="285" y="383.2" width="6.5" height="0.8" fill="#d2d264"/>
<rect x="253.5" y="384" width="8.5" height="1" fill="#3c3cff"/>
<rect x="262" y="384" width="25" height="1" fill="#aaaaff"/>
<rect x="287" y="384" width="9" height="1" fill="#4b4bff"/>
<rect x="409.2" y="386" width="37.5" height="1" fill="#e1ffe1"/>
<rect x="425.0" y="386" width="6.2" height="1" fill="#00e600"/>
<rect x="647.1" y="386" width="37.5" height="1" fill="#e1ffe1"/>
<rect x="662.9" y="386" width="6.2" height="1" fill="#00e600"/>
<path d="M489.5 386.00L505.3 376.00L514.6 376.00L530.0 386.00L523.6 386.00L519.5 383.20L500.0 383.20L495.9 386.00Z M509.8 377.40L517.5 382.10L502.1 382.10Z" fill="#ff0000" fill-rule="evenodd"/>
<path d="M568.5 385.00L584.3 382.00L593.6 382.00L609.0 385.00L602.6 385.00L598.5 384.70L579.0 384.70L574.9 385.00Z M588.8 382.42L601.0 384.64L576.8 384.64Z" fill="#ff0000" fill-rule="evenodd"/>
<rect x="729.5" y="386.2" width="40" height="1.3" fill="#e8e8b9"/>
<rect x="729.5" y="386.1" width="6.5" height="1.5" fill="#afaf1e"/>
<rect x="736" y="386.2" width="2" height="1.3" fill="#d2d278"/>
<rect x="760" y="386.2" width="3" height="1.3" fill="#d7d78c"/>
<rect x="763" y="386.4" width="6.5" height="1.2" fill="#c3c350"/>
<text transform="translate(0 424) scale(1 1.07)" x="445" fill="#000064">M</text>
<text x="456 473" y="424" fill="#000064">uz</text>
<text transform="translate(0 424) scale(1 1.07)" x="484" fill="#000064">A</text>
<text x="499 506 513 524 531 542 549 553 564 575 582" y="424" fill="#000064">gnmens o 00</text>
<text transform="translate(0 424) scale(1 1.07)" x="593" fill="#000064">V</text>
<text x="602 609 617 631 635 646 653" y="424" fill="#000064">ereraes</text>
<text x="568" y="424" fill="#000064" clip-path="url(#oa424)">1</text>
<text x="568" y="425" fill="#000064" clip-path="url(#ob424)">1</text>
<text x="463 466 470 493 496 538 560 613 624 642" y="424" fill="#000064" clip-path="url(#lo424)">ltilitftbt</text>
<text x="463 466 470 493 496 538 560 613 624 642" y="423" fill="#000064" clip-path="url(#hi424)">ltilitftbt</text>
<text transform="translate(0 438) scale(1 1.07)" x="121" fill="#e6820a">G</text>
<text x="131 138 145" y="438" fill="#e6820a">aps</text>
<path d="M129 436h1v2h-1z" fill="#e6820a" opacity="0.85"/>
<text transform="translate(0 453) scale(1 1.07)" x="111" fill="#000064">H</text>
<text x="120 127 138 145" y="453" fill="#000064">uman</text>
<text x="124 131 138 145" y="468" fill="#000064">esus</text>
<g clip-path="url(#r6)"><text transform="translate(0 468) scale(1 1.07)" x="108" fill="#000064">R</text></g>
<path d="M115 464h1v4h-1z" fill="#000064"/><path d="M116 465h1v3h-1z" fill="#000064" opacity="0.38"/><path d="M114 464h1v1h-1z" fill="#000064" opacity="0.45"/>
<text x="117" y="468" fill="#000064" clip-path="url(#lo468)">h</text>
<text x="117" y="467" fill="#000064" clip-path="url(#hi468)">h</text>
<text transform="translate(0 483) scale(1 1.07)" x="113" fill="#006400">M</text>
<text x="124 131 138 145" y="483" fill="#006400">ouse</text>
<text transform="translate(0 498) scale(1 1.07)" x="129" fill="#000064">D</text>
<text x="138 145" y="498" fill="#000064">og</text>
<text transform="translate(0 513) scale(1 1.07)" x="101" fill="#006400">E</text>
<text x="113 120 134 141" y="513" fill="#006400">epan</text>
<text x="110 127 148" y="513" fill="#006400" clip-path="url(#lo513)">lht</text>
<text x="110 127 148" y="512" fill="#006400" clip-path="url(#hi513)">lht</text>
<text transform="translate(0 528) scale(1 1.07)" x="105" fill="#006400">C</text>
<text x="124 138 145" y="528" fill="#006400">cen</text>
<text x="114 121 131" y="528" fill="#006400" clip-path="url(#lo528)">hik</text>
<text x="114 121 131" y="527" fill="#006400" clip-path="url(#hi528)">hik</text>
<text transform="translate(0 543) scale(1 1.07)" x="84" fill="#000064">X</text>
<text x="93" y="542" fill="#000064">_</text>
<text x="104 108 115 125 132 145" y="543" fill="#000064">ropcas</text>
<text x="100 122 139 142" y="543" fill="#000064" clip-path="url(#lo543)">tili</text>
<text x="100 122 139 142" y="542" fill="#000064" clip-path="url(#hi543)">tili</text>
<text transform="translate(0 558) scale(1 1.07)" x="98" fill="#006400">Z</text>
<text x="106 120 124 138" y="558" fill="#006400">eras</text>
<text x="113 131 135 145" y="558" fill="#006400" clip-path="url(#lo558)">bfih</text>
<text x="113 131 135 145" y="557" fill="#006400" clip-path="url(#hi558)">bfih</text>
<text transform="translate(0 453) scale(1 1.07)" x="189" fill="#000064">G</text>
<path d="M197 451h1v2h-1z" fill="#000064" opacity="0.85"/>
<text transform="translate(0 453) scale(1 1.07)" x="268" fill="#000064">G</text>
<path d="M276 451h1v2h-1z" fill="#000064" opacity="0.85"/>
<text transform="translate(0 453) scale(1 1.07)" x="347" fill="#000064">C</text>
<text transform="translate(0 453) scale(1 1.07)" x="427" fill="#000064">T</text>
<text transform="translate(0 453) scale(1 1.07)" x="506" fill="#000064">A</text>
<text transform="translate(0 453) scale(1 1.07)" x="585" fill="#000064">A</text>
<text transform="translate(0 453) scale(1 1.07)" x="665" fill="#000064">T</text>
<text transform="translate(0 453) scale(1 1.07)" x="744" fill="#000064">C</text>
<text transform="translate(0 453) scale(1 1.07)" x="823" fill="#000064">C</text>
<text transform="translate(0 453) scale(1 1.07)" x="903" fill="#000064">T</text>
<text transform="translate(0 468) scale(1 1.07)" x="189" fill="#000064">G</text>
<path d="M197 466h1v2h-1z" fill="#000064" opacity="0.85"/>
<text transform="translate(0 468) scale(1 1.07)" x="268" fill="#000064">G</text>
<path d="M276 466h1v2h-1z" fill="#000064" opacity="0.85"/>
<text transform="translate(0 468) scale(1 1.07)" x="347" fill="#000064">C</text>
<text transform="translate(0 468) scale(1 1.07)" x="427" fill="#000064">T</text>
<text transform="translate(0 468) scale(1 1.07)" x="506" fill="#000064">A</text>
<text transform="translate(0 468) scale(1 1.07)" x="585" fill="#000064">A</text>
<text transform="translate(0 468) scale(1 1.07)" x="665" fill="#000064">T</text>
<text transform="translate(0 468) scale(1 1.07)" x="744" fill="#000064">C</text>
<text transform="translate(0 468) scale(1 1.07)" x="823" fill="#000064">C</text>
<text transform="translate(0 468) scale(1 1.07)" x="903" fill="#000064">T</text>
<text x="192" y="483" fill="#6464a0">-</text>
<text transform="translate(0 483) scale(1 1.07)" x="268" fill="#9696be">C</text>
<text transform="translate(0 483) scale(1 1.07)" x="347" fill="#000064">C</text>
<text transform="translate(0 483) scale(1 1.07)" x="427" fill="#000064">T</text>
<text transform="translate(0 483) scale(1 1.07)" x="506" fill="#000064">A</text>
<text transform="translate(0 483) scale(1 1.07)" x="585" fill="#9696be">C</text>
<text transform="translate(0 483) scale(1 1.07)" x="665" fill="#000064">T</text>
<text transform="translate(0 483) scale(1 1.07)" x="745" fill="#9696be">T</text>
<text transform="translate(0 483) scale(1 1.07)" x="823" fill="#000064">C</text>
<text transform="translate(0 483) scale(1 1.07)" x="903" fill="#9696be">A</text>
<text x="192" y="498" fill="#6464a0">-</text>
<text x="271" y="498" fill="#6464a0">-</text>
<text x="350" y="498" fill="#6464a0">-</text>
<text x="429" y="498" fill="#6464a0">-</text>
<text x="509" y="498" fill="#6464a0">-</text>
<text x="588" y="498" fill="#6464a0">-</text>
<text x="667" y="498" fill="#6464a0">-</text>
<text x="747" y="498" fill="#6464a0">-</text>
<text x="826" y="498" fill="#6464a0">-</text>
<text x="905" y="498" fill="#6464a0">-</text>
<text x="190" y="514" fill="#6464a0">=</text>
<text x="269" y="514" fill="#6464a0">=</text>
<text x="348" y="514" fill="#6464a0">=</text>
<text x="427" y="514" fill="#6464a0">=</text>
<text x="507" y="514" fill="#6464a0">=</text>
<text x="586" y="514" fill="#6464a0">=</text>
<text x="665" y="514" fill="#6464a0">=</text>
<text x="745" y="514" fill="#6464a0">=</text>
<text x="824" y="514" fill="#6464a0">=</text>
<text x="903" y="514" fill="#6464a0">=</text>
<text x="450 457 464 471 485 492" y="574">epeang</text>
<text transform="translate(0 574) scale(1 1.07)" x="503">E</text>
<text x="515 522 533 540 551 558 569 576 589 596 603 610" y="574">emens y epea</text>
<text transform="translate(0 574) scale(1 1.07)" x="621">M</text>
<text x="632 639 653 660" y="574">aser</text>
<g clip-path="url(#r7)"><text transform="translate(0 574) scale(1 1.07)" x="441">R</text></g>
<path d="M448 570h1v4h-1z" fill="#000"/><path d="M449 571h1v3h-1z" fill="#000" opacity="0.38"/><path d="M447 570h1v1h-1z" fill="#000" opacity="0.45"/>
<g clip-path="url(#r8)"><text transform="translate(0 574) scale(1 1.07)" x="580">R</text></g>
<path d="M587 570h1v4h-1z" fill="#000"/><path d="M588 571h1v3h-1z" fill="#000" opacity="0.38"/><path d="M586 570h1v1h-1z" fill="#000" opacity="0.45"/>
<text x="478 482 512 547 562 617 646" y="574" clip-path="url(#lo574)">tiltbtk</text>
<text x="478 482 512 547 562 617 646" y="573" clip-path="url(#hi574)">tiltbtk</text>
<text x="77 84 91 98" y="588">epea</text>
<text transform="translate(0 588) scale(1 1.07)" x="109">M</text>
<text x="120 127 141 148" y="588">aser</text>
<g clip-path="url(#r9)"><text transform="translate(0 588) scale(1 1.07)" x="68">R</text></g>
<path d="M75 584h1v4h-1z" fill="#000"/><path d="M76 585h1v3h-1z" fill="#000" opacity="0.38"/><path d="M74 584h1v1h-1z" fill="#000" opacity="0.45"/>
<text x="105 134" y="588" clip-path="url(#lo588)">tk</text>
<text x="105 134" y="587" clip-path="url(#hi588)">tk</text>
</svg></body></html>
